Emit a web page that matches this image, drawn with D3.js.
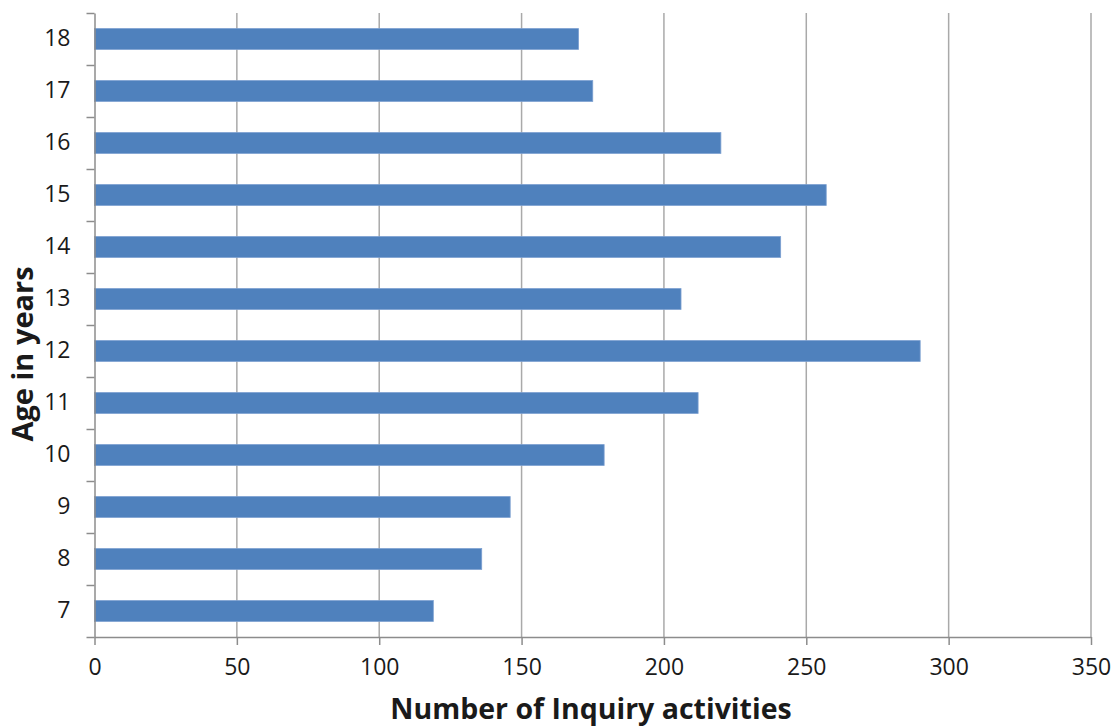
<!DOCTYPE html>
<html>
<head>
<meta charset="utf-8">
<script src="https://cdn.jsdelivr.net/npm/d3@7"></script>
<style>
  html, body { margin: 0; padding: 0; background: #ffffff; }
  svg { display: block; }
  text { font-family: "Open Sans", "Liberation Sans", sans-serif; fill: #1a1a1a; }
</style>
</head>
<body>
<svg id="chart" width="1115" height="728"></svg>
<script>
// Age groups (bottom to top) and the number of inquiry activities for each
const ages = ["7", "8", "9", "10", "11", "12", "13", "14", "15", "16", "17", "18"];
const activities = [119, 136, 146, 179, 212, 290, 206, 241, 257, 220, 175, 170];
const xTicks = [0, 50, 100, 150, 200, 250, 300, 350];
const xTitle = "Number of Inquiry activities";
const yTitle = "Age in years";

const svg = d3.select("#chart");
const plotLeft = 94.5, plotRight = 1091, plotTop = 13, plotBottom = 637;

const x = d3.scaleLinear().domain([0, 350]).range([plotLeft, plotRight]);

// 18 at the top, 7 at the bottom
const y = d3.scaleBand()
  .domain(ages.slice().reverse())
  .range([plotTop, plotBottom])
  .paddingInner(0.6)
  .paddingOuter(0.3);

// slot boundaries for the category tick marks
const ySlots = d3.scaleLinear().domain([0, ages.length]).range([plotBottom, plotTop]);

// vertical gridlines
svg.append("g")
  .selectAll("line")
  .data(xTicks.filter(d => d > 0))
  .join("line")
  .attr("x1", d => x(d)).attr("x2", d => x(d))
  .attr("y1", plotTop).attr("y2", plotBottom)
  .attr("stroke", "#a9a9a9")
  .attr("stroke-width", 1.5);

// bars
svg.append("g")
  .selectAll("rect")
  .data(ages.map((a, i) => ({ age: a, value: activities[i] })))
  .join("rect")
  .attr("x", x(0))
  .attr("y", d => y(d.age))
  .attr("width", d => x(d.value) - x(0))
  .attr("height", y.bandwidth())
  .attr("fill", "#4f81bd")
  .attr("stroke", "#7b9fd0")
  .attr("stroke-width", 0.8);

// x axis
const xAxis = svg.append("g")
  .attr("transform", `translate(0,${plotBottom})`)
  .call(d3.axisBottom(x).tickValues(xTicks).tickSize(8).tickPadding(14).tickSizeOuter(0));
xAxis.select(".domain").attr("stroke", "#8c8c8c").attr("stroke-width", 1.5);
xAxis.selectAll(".tick line").attr("stroke", "#8c8c8c").attr("stroke-width", 1.5);
xAxis.selectAll(".tick text")
  .attr("font-size", 23)
  .attr("fill", "#1a1a1a")
  .style("font-family", "'Open Sans', sans-serif");

// y axis: line with tick marks at slot boundaries
const yAxis = svg.append("g")
  .attr("transform", `translate(${plotLeft},0)`)
  .call(d3.axisLeft(ySlots).tickValues(d3.range(ages.length + 1)).tickFormat("").tickSize(8).tickSizeOuter(0));
yAxis.select(".domain").attr("stroke", "#8c8c8c").attr("stroke-width", 1.5);
yAxis.selectAll(".tick line").attr("stroke", "#8c8c8c").attr("stroke-width", 1.5);

// y category labels
const yLabels = svg.append("g")
  .attr("transform", `translate(${plotLeft},0)`)
  .call(d3.axisLeft(y).tickSize(0).tickPadding(24));
yLabels.select(".domain").remove();
yLabels.selectAll(".tick text")
  .attr("font-size", 23)
  .attr("fill", "#1a1a1a")
  .style("font-family", "'Open Sans', sans-serif");

// axis titles
svg.append("text")
  .attr("x", 591)
  .attr("y", 719)
  .attr("text-anchor", "middle")
  .attr("font-size", 28.5)
  .attr("font-weight", "bold")
  .text(xTitle);

svg.append("text")
  .attr("transform", `translate(33,${(plotTop + plotBottom) / 2 + 29}) rotate(-90)`)
  .attr("text-anchor", "middle")
  .attr("font-size", 29)
  .attr("font-weight", "bold")
  .text(yTitle);
</script>
</body>
</html>
